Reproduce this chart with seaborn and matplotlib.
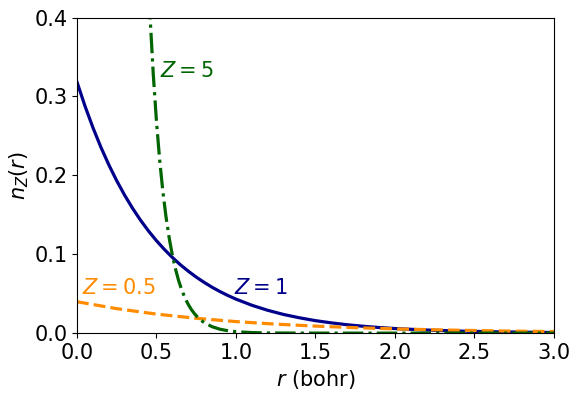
import numpy as np
import seaborn as sns
import matplotlib.pyplot as plt

# values
r_z1 = [0.0, 0.05, 0.1, 0.15, 0.2, 0.25, 0.3, 0.35, 0.4, 0.45, 0.5, 0.55, 0.6, 0.65,
        0.7, 0.75, 0.8, 0.85, 0.9, 0.95, 1.0, 1.1, 1.2, 1.3, 1.4, 1.5, 1.6, 1.7, 1.8,
        1.9, 2.0, 2.2, 2.4, 2.6, 2.8, 3.0]
n_z1 = [0.3183, 0.2880, 0.2606, 0.2358, 0.2134, 0.1931, 0.1747, 0.1581, 0.1430, 0.1294,
        0.1171, 0.1060, 0.0959, 0.0867, 0.0785, 0.0710, 0.0643, 0.0581, 0.0526, 0.0476,
        0.0431, 0.0353, 0.0289, 0.0236, 0.0194, 0.0158, 0.0130, 0.0106, 0.0087, 0.0071,
        0.0058, 0.0039, 0.0026, 0.0018, 0.0012, 0.0008]

r_z05 = [0.0, 0.25, 0.5, 0.75, 1.0, 1.25, 1.5, 1.75, 2.0, 2.25, 2.5, 2.75, 3.0]
n_z05 = [0.0398, 0.0310, 0.0241, 0.0188, 0.0146, 0.0114, 0.0089, 0.0069, 0.0054,
         0.0042, 0.0033, 0.0025, 0.0020]

r_z5 = [0.45, 0.46, 0.48, 0.5, 0.52, 0.54, 0.56, 0.58, 0.6, 0.62, 0.64, 0.66, 0.68, 0.7,
        0.72, 0.74, 0.76, 0.78, 0.8, 0.85, 0.9, 0.95, 1.0, 1.1, 1.2, 1.4, 1.7, 2.0, 3.0]
n_z5 = [0.442, 0.400, 0.3274, 0.2681, 0.2195, 0.1797, 0.1472, 0.1205, 0.0986, 0.0808,
        0.0661, 0.0541, 0.0443, 0.0363, 0.0297, 0.0243, 0.0199, 0.0163, 0.0133, 0.0081,
        0.0049, 0.0030, 0.0018, 0.0007, 0.0002, 0.00003, 0.0, 0.0, 0.0]

fig, ax = plt.subplots(figsize=(5.81, 3.98), dpi=100)
fig.subplots_adjust(left=0.1325, right=0.9535, bottom=0.163, top=0.956)

sns.lineplot(x=r_z1, y=n_z1, ax=ax, color="darkblue", lw=2.3)
sns.lineplot(x=r_z05, y=n_z05, ax=ax, color="darkorange", lw=2.3, linestyle="--")
sns.lineplot(x=r_z5, y=n_z5, ax=ax, color="darkgreen", lw=2.3, linestyle="-.")

ax.text(0.52, 0.325, "$Z=5$", color="darkgreen", fontsize=15)
ax.text(0.99, 0.049, "$Z=1$", color="darkblue", fontsize=15)
ax.text(0.03, 0.049, "$Z=0.5$", color="darkorange", fontsize=15)

ax.set_xlim(0, 3)
ax.set_ylim(0, 0.4)
ax.set_xticks([0.0, 0.5, 1.0, 1.5, 2.0, 2.5, 3.0])
ax.set_yticks([0.0, 0.1, 0.2, 0.3, 0.4])
ax.tick_params(labelsize=15)
ax.set_xlabel("$r$ (bohr)", fontsize=15)
ax.set_ylabel("$n_Z(r)$", fontsize=15, labelpad=2)

plt.savefig("out.png")
